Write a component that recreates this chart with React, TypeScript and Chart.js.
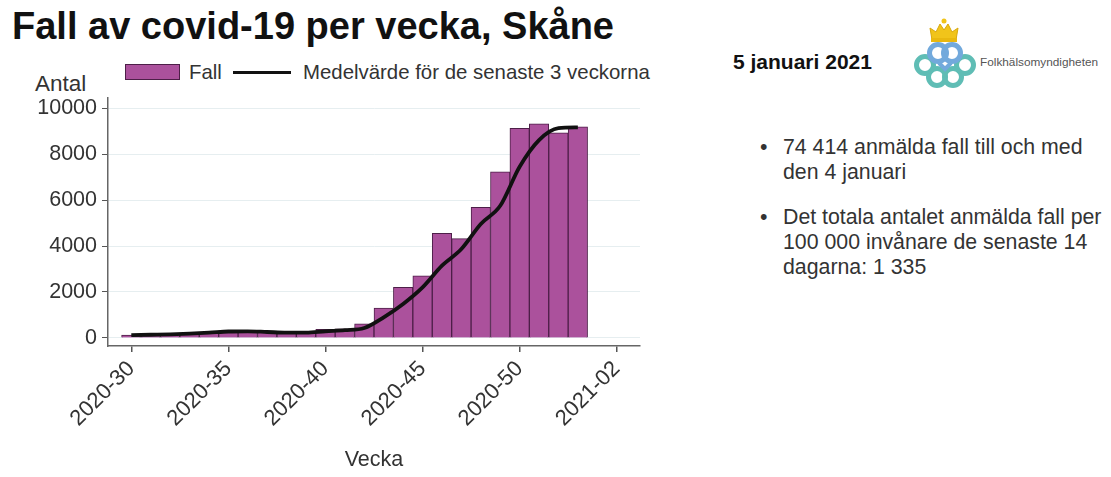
import React, { useEffect, useRef } from 'react';
import { Chart, registerables } from 'chart.js';

Chart.register(...registerables);

// ---- data ----
const weeks = [
  '2020-30', '2020-31', '2020-32', '2020-33', '2020-34', '2020-35', '2020-36', '2020-37',
  '2020-38', '2020-39', '2020-40', '2020-41', '2020-42', '2020-43', '2020-44', '2020-45',
  '2020-46', '2020-47', '2020-48', '2020-49', '2020-50', '2020-51', '2020-52', '2020-53',
];
const cases = [
  120, 150, 170, 200, 250, 310, 280, 240,
  220, 240, 380, 400, 610, 1300, 2200, 2700,
  4550, 4320, 5680, 7230, 9115, 9320, 8930, 9190,
];
const mean3 = [
  120, 140, 160, 190, 230, 280, 290, 260,
  230, 230, 290, 340, 435, 900, 1480, 2200,
  3145, 3870, 4960, 5750, 7450, 8610, 9130, 9160,
];
const tickWeeks = ['2020-30', '2020-35', '2020-40', '2020-45', '2020-50', '2021-02'];
const yTicks = [0, 2000, 4000, 6000, 8000, 10000];

const FONT = "'Liberation Sans', Arial, Helvetica, sans-serif";
const TEXT = '#333333';
const BAR_FILL = '#ab519c';
const BAR_EDGE = '#4d1f48';

// ISO week label -> running week number (2020 has 53 weeks)
const weekIndex = (w: string) => {
  const [y, n] = w.split('-').map(Number);
  return y === 2020 ? n : 53 + n;
};

function CovidChart() {
  const ref = useRef<HTMLCanvasElement | null>(null);
  useEffect(() => {
    if (!ref.current) return;
    const chart = new Chart(ref.current, {
      type: 'bar',
      data: {
        datasets: [
          {
            type: 'line',
            label: 'Medelvärde för de senaste 3 veckorna',
            data: weeks.map((w, i) => ({ x: weekIndex(w), y: mean3[i] })),
            borderColor: '#111111',
            borderWidth: 3.8,
            pointRadius: 0,
            cubicInterpolationMode: 'monotone',
            order: 0,
          } as any,
          {
            type: 'bar',
            label: 'Fall',
            data: weeks.map((w, i) => ({ x: weekIndex(w), y: cases[i] })),
            backgroundColor: BAR_FILL,
            borderColor: BAR_EDGE,
            borderWidth: 1,
            barPercentage: 1,
            categoryPercentage: 1,
            order: 1,
          } as any,
        ],
      },
      options: {
        animation: false,
        responsive: false,
        maintainAspectRatio: false,
        layout: { padding: { top: 8, right: 20, left: 0, bottom: 0 } },
        plugins: { legend: { display: false }, tooltip: { enabled: false } },
        scales: {
          x: {
            type: 'linear',
            offset: false,
            min: 28.8,
            max: 56.2,
            afterBuildTicks: (s: any) => {
              s.ticks = tickWeeks.map((w) => ({ value: weekIndex(w) }));
            },
            afterFit: (s: any) => {
              s.height = 131;
            },
            ticks: {
              autoSkip: false,
              minRotation: 45,
              maxRotation: 45,
              padding: 4,
              color: TEXT,
              font: { family: FONT, size: 22 },
              callback: (v: any) => tickWeeks.find((w) => weekIndex(w) === v) ?? '',
            },
            grid: { offset: false, drawOnChartArea: false, tickLength: 6, tickColor: '#555', lineWidth: 1.5 },
            border: { color: '#666', width: 1.5 },
            title: {
              display: true,
              text: 'Vecka',
              color: TEXT,
              font: { family: FONT, size: 21.5 },
            },
          },
          y: {
            min: -350,
            max: 10440,
            afterBuildTicks: (s: any) => {
              s.ticks = yTicks.map((v) => ({ value: v }));
            },
            afterFit: (s: any) => {
              s.width = 108;
              s.paddingTop = 0;
              s.paddingBottom = 0;
            },
            ticks: {
              padding: 5,
              color: TEXT,
              font: { family: FONT, size: 21.5 },
              callback: (v: any) => String(v),
            },
            grid: { color: '#e6eef0', tickColor: '#555', tickLength: 6, lineWidth: 1 },
            border: { color: '#666', width: 1.5 },
          },
        },
      } as any,
    });
    return () => chart.destroy();
  }, []);
  return <canvas ref={ref} width={660} height={387} style={{ position: 'absolute', left: 0, top: 90, width: 660, height: 387 }} />;
}

function Logo() {
  const teal = '#5fbdb5';
  const blue = '#72a9dc';
  return (
    <svg width={80} height={75} viewBox="905 15 80 75" style={{ position: 'absolute', left: 905, top: 15 }}>
      {/* crown */}
      <path d="M932 40 L930 28 L936 32 L940 24 L944 30 L948 24 L952 32 L958 28 L956 40 Z" fill="#f1c41a" stroke="#d8a80c" strokeWidth={1} />
      <rect x={931} y={38} width={26} height={4} fill="#e9b80f" />
      <circle cx={944} cy={21} r={2.5} fill="#f1c41a" />
      <g fill="none" strokeWidth={5}>
        <circle cx={925} cy={65} r={8.5} stroke={teal} />
        <circle cx={965} cy={65} r={8.5} stroke={teal} />
        <circle cx={937} cy={77} r={8.5} stroke={teal} />
        <circle cx={953} cy={77} r={8.5} stroke={teal} />
        <circle cx={938} cy={53} r={8.5} stroke={blue} />
        <circle cx={952} cy={53} r={8.5} stroke={blue} />
        <path d="M939 63 L945 69 L951 63" stroke={blue} strokeWidth={4} />
      </g>
    </svg>
  );
}

export default function App() {
  const base: React.CSSProperties = { position: 'absolute', fontFamily: FONT, color: TEXT, whiteSpace: 'nowrap' };
  return (
    <div style={{ position: 'absolute', left: 0, top: 0, width: 1111, height: 477, background: '#ffffff', overflow: 'hidden' }}>
      <div style={{ ...base, left: 12, top: 7, fontSize: 38, lineHeight: '38px', fontWeight: 700, color: '#111' }}>
        Fall av covid-19 per vecka, Skåne
      </div>
      {/* legend */}
      <div style={{ position: 'absolute', left: 125, top: 64, width: 55, height: 16, background: BAR_FILL, border: `1px solid ${BAR_EDGE}`, boxSizing: 'border-box' }} />
      <div style={{ ...base, left: 189, top: 60, fontSize: 20.4, lineHeight: '24px' }}>Fall</div>
      <div style={{ position: 'absolute', left: 233, top: 71, width: 58, height: 3, background: '#111' }} />
      <div style={{ ...base, left: 303, top: 60, fontSize: 20.4, lineHeight: '24px' }}>Medelvärde för de senaste 3 veckorna</div>
      <div style={{ ...base, left: 35, top: 71, fontSize: 22.5, lineHeight: '26px' }}>Antal</div>
      <CovidChart />
      {/* right panel */}
      <div style={{ ...base, left: 733, top: 50, fontSize: 21, lineHeight: '24px', fontWeight: 700, color: '#111' }}>5 januari 2021</div>
      <Logo />
      <div style={{ ...base, left: 980, top: 55, fontSize: 11.8, lineHeight: '14px', color: '#555' }}>Folkhälsomyndigheten</div>
      <div style={{ ...base, left: 760, top: 135, fontSize: 21.3, lineHeight: '25px' }}>•</div>
      <div style={{ ...base, left: 783, top: 135, fontSize: 21.3, lineHeight: '25px' }}>
        74 414 anmälda fall till och med
        <br />
        den 4 januari
      </div>
      <div style={{ ...base, left: 760, top: 205, fontSize: 21.3, lineHeight: '25px' }}>•</div>
      <div style={{ ...base, left: 783, top: 205, fontSize: 21.3, lineHeight: '25px' }}>
        Det totala antalet anmälda fall per
        <br />
        100 000 invånare de senaste 14
        <br />
        dagarna: 1 335
      </div>
    </div>
  );
}
